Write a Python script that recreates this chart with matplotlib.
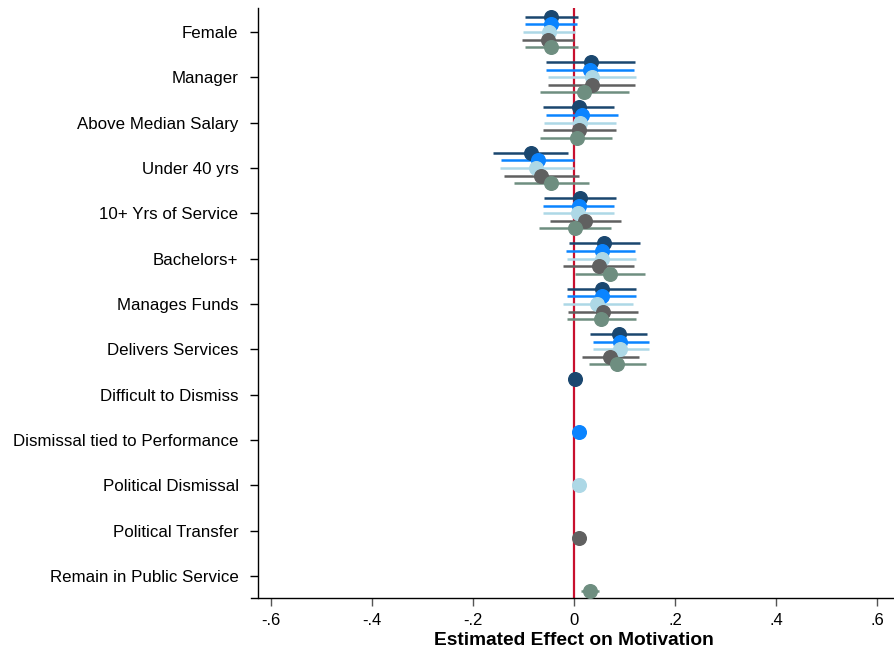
import matplotlib
matplotlib.use("Agg")
import matplotlib.pyplot as plt
import numpy as np

plt.rcParams['font.family'] = ['Liberation Sans', 'DejaVu Sans']

categories = ["Female", "Manager", "Above Median Salary", "Under 40 yrs",
              "10+ Yrs of Service", "Bachelors+", "Manages Funds",
              "Delivers Services", "Difficult to Dismiss",
              "Dismissal tied to Performance", "Political Dismissal",
              "Political Transfer", "Remain in Public Service"]

# five model series: point estimate, lower CI, upper CI (NaN where absent)
nan = np.nan
s1_est = [-0.046, 0.033, 0.009, -0.086, 0.012, 0.060, 0.055, 0.089, 0.002, nan, nan, nan, nan]
s1_lo  = [-0.098, -0.055, -0.062, -0.161, -0.059, -0.009, -0.014, 0.032, -0.010, nan, nan, nan, nan]
s1_hi  = [0.007, 0.121, 0.080, -0.011, 0.083, 0.131, 0.123, 0.145, 0.014, nan, nan, nan, nan]

s2_est = [-0.046, 0.032, 0.016, -0.072, 0.009, 0.055, 0.055, 0.092, nan, 0.010, nan, nan, nan]
s2_lo  = [-0.098, -0.055, -0.055, -0.144, -0.062, -0.016, -0.014, 0.037, nan, -0.004, nan, nan, nan]
s2_hi  = [0.005, 0.118, 0.087, 0.000, 0.080, 0.121, 0.123, 0.148, nan, 0.024, nan, nan, nan]

s3_est = [-0.049, 0.036, 0.012, -0.075, 0.007, 0.056, 0.046, 0.092, nan, nan, 0.010, nan, nan]
s3_lo  = [-0.100, -0.052, -0.059, -0.147, -0.062, -0.014, -0.021, 0.037, nan, nan, -0.004, nan, nan]
s3_hi  = [0.002, 0.123, 0.083, 0.000, 0.080, 0.123, 0.116, 0.148, nan, nan, 0.024, nan, nan]

s4_est = [-0.052, 0.035, 0.010, -0.066, 0.022, 0.049, 0.057, 0.071, nan, nan, nan, 0.010, nan]
s4_lo  = [-0.103, -0.052, -0.062, -0.139, -0.048, -0.021, -0.011, 0.015, nan, nan, nan, -0.004, nan]
s4_hi  = [0.000, 0.121, 0.083, 0.010, 0.094, 0.119, 0.126, 0.129, nan, nan, nan, 0.024, nan]

s5_est = [-0.046, 0.020, 0.005, -0.046, 0.002, 0.071, 0.053, 0.086, nan, nan, nan, nan, 0.032]
s5_lo  = [-0.098, -0.067, -0.067, -0.119, -0.069, 0.002, -0.014, 0.030, nan, nan, nan, nan, 0.013]
s5_hi  = [0.007, 0.109, 0.075, 0.029, 0.073, 0.141, 0.123, 0.143, nan, nan, nan, nan, 0.050]

xticks = [-0.6, -0.4, -0.2, 0, 0.2, 0.4, 0.6]
xticklabels = ["-.6", "-.4", "-.2", "0", ".2", ".4", ".6"]

series = [(s1_est, s1_lo, s1_hi), (s2_est, s2_lo, s2_hi), (s3_est, s3_lo, s3_hi),
          (s4_est, s4_lo, s4_hi), (s5_est, s5_lo, s5_hi)]
colors = ["#1a476f", "#0a84ff", "#add8e6", "#606060", "#6e8e80"]
offsets = [-0.34, -0.17, 0.0, 0.17, 0.33]

W, H = 895, 651
fig = plt.figure(figsize=(W / 100, H / 100), dpi=100)
left, right, top, bottom = 258, 890, 8, 598
ax = fig.add_axes([left / W, 1 - bottom / H, (right - left) / W, (bottom - top) / H])

ypos = np.arange(1, len(categories) + 1)
ax.axvline(0, color="#c8102e", lw=1.6, zorder=1)

for (est, lo, hi), c, off in zip(series, colors, offsets):
    est = np.array(est); lo = np.array(lo); hi = np.array(hi)
    y = ypos + off
    m = ~np.isnan(est)
    ax.hlines(y[m], lo[m], hi[m], color=c, lw=1.8, zorder=2)
    ax.plot(est[m], y[m], 'o', color=c, ms=9.8, mec=c, zorder=3)

ax.set_xlim(-0.6257, 0.6257)
ax.set_ylim(13.485, 0.47)
ax.set_yticks(ypos)
ax.set_yticklabels(categories, fontsize=12.2)
ax.set_xticks(xticks)
ax.set_xticklabels(xticklabels, fontsize=12)
ax.tick_params(axis='y', length=6, width=1, pad=8)
ax.tick_params(axis='x', length=6, width=1, pad=5, color="#555555")
ax.spines['top'].set_visible(False)
ax.spines['right'].set_visible(False)
ax.spines['left'].set_linewidth(1)
ax.spines['bottom'].set_linewidth(1)
ax.spines['bottom'].set_bounds(-0.64, 0.64)
ax.spines['bottom'].set_clip_on(False)
ax.set_xlabel("Estimated Effect on Motivation", fontsize=13.8, fontweight='bold', labelpad=3)

fig.savefig("out.png", dpi=100)
